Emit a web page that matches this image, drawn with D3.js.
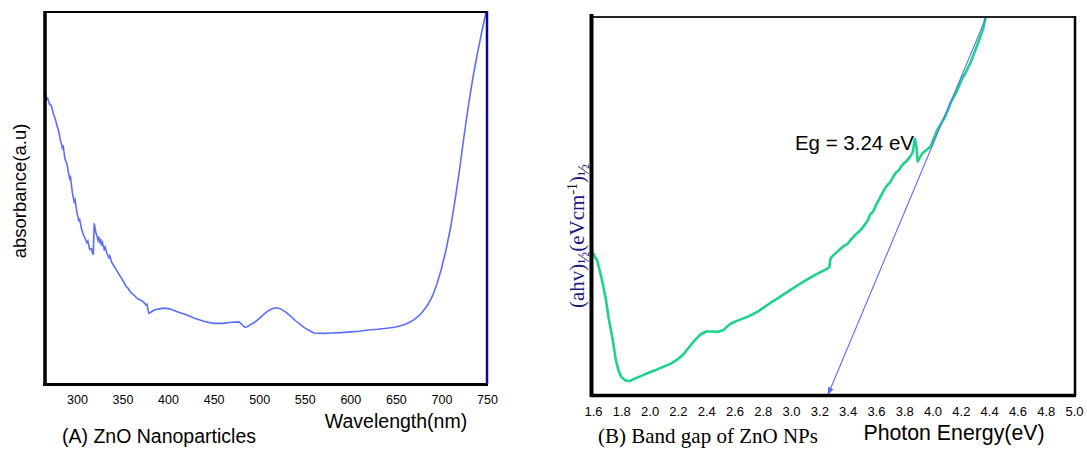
<!DOCTYPE html>
<html>
<head>
<meta charset="utf-8">
<script src="https://d3js.org/d3.v7.min.js"></script>
<style>
  body { margin: 0; background: #fff; }
  svg { display: block; }
</style>
</head>
<body>
<div id="chart"></div>
<script>
// Define SVG area dimensions
var svgWidth = 1087;
var svgHeight = 449;

// Panel A data: UV-vis absorbance of ZnO nanoparticles
var wavelength = [265, 266, 267, 268, 270, 272, 274, 276, 278, 280, 282, 284, 285, 287, 289, 290, 292, 293, 295, 297,
  298, 300, 302, 303, 305, 307, 309, 311, 312, 314, 316, 317, 318, 319, 320, 321, 322, 323, 324, 325,
  326, 327, 328, 330, 331, 333, 335, 336, 338, 340, 342, 344, 346, 348, 350, 352, 354, 356, 358, 360,
  362, 364, 366, 368, 370, 372, 374, 376, 377, 378, 379, 381, 385, 390, 396, 402, 410, 420, 430, 440,
  450, 460, 470, 478, 481, 484, 487, 490, 495, 500, 505, 510, 515, 520, 525, 530, 535, 540, 545, 550,
  555, 560, 570, 580, 590, 600, 610, 620, 630, 640, 650, 660, 665, 670, 675, 680, 685, 690, 695, 700,
  705, 710, 715, 720, 725, 730, 735, 740, 745, 749];
var absorbance = [0.772, 0.778, 0.765, 0.768, 0.752, 0.748, 0.728, 0.715, 0.696, 0.680, 0.655, 0.634, 0.638, 0.604, 0.592, 0.578, 0.552, 0.556, 0.515, 0.490,
  0.495, 0.462, 0.440, 0.443, 0.418, 0.402, 0.391, 0.380, 0.384, 0.362, 0.364, 0.352, 0.350, 0.432, 0.418, 0.405, 0.398, 0.388, 0.396, 0.378,
  0.390, 0.372, 0.380, 0.362, 0.368, 0.350, 0.340, 0.345, 0.328, 0.320, 0.312, 0.304, 0.296, 0.288, 0.280, 0.272, 0.262, 0.258, 0.250, 0.244,
  0.240, 0.236, 0.230, 0.228, 0.225, 0.222, 0.218, 0.212, 0.214, 0.200, 0.190, 0.193, 0.199, 0.202, 0.204, 0.202, 0.194, 0.186, 0.176, 0.168,
  0.163, 0.163, 0.166, 0.167, 0.160, 0.153, 0.154, 0.159, 0.166, 0.176, 0.187, 0.197, 0.203, 0.205, 0.200, 0.192, 0.181, 0.170, 0.160, 0.151,
  0.144, 0.137, 0.136, 0.137, 0.138, 0.140, 0.142, 0.145, 0.147, 0.150, 0.153, 0.160, 0.166, 0.173, 0.183, 0.196, 0.213, 0.236, 0.268, 0.310,
  0.360, 0.420, 0.495, 0.578, 0.670, 0.755, 0.830, 0.895, 0.955, 1.0];
var wavelengthTicks = [300, 350, 400, 450, 500, 550, 600, 650, 700, 750];

// Panel B data: Tauc plot of ZnO NPs
var energy = [1.60, 1.63, 1.66, 1.69, 1.71, 1.74, 1.76, 1.78, 1.80, 1.83, 1.86, 1.90, 1.95, 2.00, 2.05, 2.10, 2.15, 2.20, 2.24, 2.28,
  2.32, 2.36, 2.40, 2.44, 2.48, 2.52, 2.55, 2.58, 2.63, 2.70, 2.77, 2.84, 2.91, 2.98, 3.05, 3.12, 3.18, 3.25, 3.27, 3.28,
  3.30, 3.33, 3.36, 3.38, 3.40, 3.42, 3.44, 3.46, 3.48, 3.50, 3.52, 3.54, 3.56, 3.58, 3.60, 3.62, 3.64, 3.66, 3.68, 3.70,
  3.72, 3.74, 3.76, 3.78, 3.80, 3.82, 3.84, 3.86, 3.875, 3.885, 3.895, 3.91, 3.93, 3.95, 3.97, 3.99, 4.01, 4.03, 4.05, 4.07,
  4.09, 4.11, 4.13, 4.15, 4.17, 4.19, 4.21, 4.23, 4.25, 4.27, 4.29, 4.31, 4.33, 4.35, 4.36, 4.375];
var tauc = [3.75, 3.55, 3.10, 2.55, 2.05, 1.45, 0.95, 0.65, 0.48, 0.38, 0.37, 0.44, 0.52, 0.60, 0.67, 0.75, 0.83, 0.95, 1.08, 1.27,
  1.45, 1.60, 1.68, 1.68, 1.67, 1.71, 1.82, 1.90, 1.98, 2.08, 2.22, 2.40, 2.57, 2.74, 2.91, 3.07, 3.20, 3.33, 3.38, 3.62,
  3.70, 3.80, 3.90, 3.96, 4.00, 4.10, 4.18, 4.26, 4.32, 4.40, 4.50, 4.60, 4.78, 4.85, 5.02, 5.16, 5.30, 5.44, 5.55, 5.62,
  5.76, 5.88, 5.94, 6.05, 6.14, 6.20, 6.30, 6.42, 6.78, 6.60, 6.18, 6.28, 6.40, 6.46, 6.52, 6.60, 6.80, 6.98, 7.12, 7.24,
  7.38, 7.55, 7.75, 7.88, 8.02, 8.20, 8.38, 8.50, 8.65, 8.80, 9.00, 9.20, 9.40, 9.60, 9.72, 10.0];
var energyTicks = [1.6, 1.8, 2.0, 2.2, 2.4, 2.6, 2.8, 3.0, 3.2, 3.4, 3.6, 3.8, 4.0, 4.2, 4.4, 4.6, 4.8, 5.0];
// extrapolated linear fit: [energy, tauc] at both ends
var fitLine = [[4.38, 10.0], [3.26, 0]];
var bandGap = "Eg = 3.24 eV";

var svg = d3.select("#chart")
  .append("svg")
  .attr("width", svgWidth)
  .attr("height", svgHeight);

svg.append("defs").append("marker")
  .attr("id", "arrow")
  .attr("viewBox", "0 0 10 10")
  .attr("refX", 10)
  .attr("refY", 5)
  .attr("markerWidth", 7)
  .attr("markerHeight", 7)
  .attr("orient", "auto")
  .append("path")
  .attr("d", "M0,1 L10,5 L0,9 Z")
  .attr("fill", "#5a6cf4");

// ==============================
// Panel A
// ==============================
var xA = d3.scaleLinear().domain([265, 750]).range([45, 487]);
var yA = d3.scaleLinear().domain([0, 1]).range([384, 12]);

var lineA = d3.line()
  .x(d => xA(d[0]))
  .y(d => yA(d[1]));

svg.append("path")
  .datum(d3.zip(wavelength, absorbance))
  .attr("d", lineA)
  .attr("fill", "none")
  .attr("stroke", "#5b6ef7")
  .attr("stroke-width", 1.6);

// frame
svg.append("line").attr("x1", 45).attr("x2", 487).attr("y1", 12).attr("y2", 12)
  .attr("stroke", "#000").attr("stroke-width", 2);
svg.append("line").attr("x1", 45).attr("x2", 45).attr("y1", 11).attr("y2", 386)
  .attr("stroke", "#000").attr("stroke-width", 3.5);
svg.append("line").attr("x1", 43).attr("x2", 488).attr("y1", 384.5).attr("y2", 384.5)
  .attr("stroke", "#000").attr("stroke-width", 3);
svg.append("line").attr("x1", 487).attr("x2", 487).attr("y1", 11).attr("y2", 384)
  .attr("stroke", "#0a0a8a").attr("stroke-width", 2.5);

var axisA = svg.append("g")
  .attr("transform", "translate(0, 384)")
  .call(d3.axisBottom(xA).tickValues(wavelengthTicks).tickSize(0).tickPadding(11));
axisA.select(".domain").remove();
axisA.selectAll("text")
  .style("font-family", "Liberation Sans, Arial, sans-serif")
  .style("font-size", "12.5px")
  .attr("fill", "#000");

svg.append("text")
  .attr("x", 396)
  .attr("y", 428)
  .attr("text-anchor", "middle")
  .style("font-family", "Liberation Sans, Arial, sans-serif")
  .style("font-size", "19.5px")
  .text("Wavelength(nm)");

svg.append("text")
  .attr("x", 62)
  .attr("y", 443)
  .style("font-family", "Liberation Sans, Arial, sans-serif")
  .style("font-size", "19.5px")
  .text("(A) ZnO Nanoparticles");

svg.append("text")
  .attr("transform", "translate(20, 191) rotate(-90)")
  .attr("text-anchor", "middle")
  .attr("dy", "0.35em")
  .style("font-family", "Liberation Sans, Arial, sans-serif")
  .style("font-size", "18.5px")
  .text("absorbance(a.u)");

// ==============================
// Panel B
// ==============================
var xB = d3.scaleLinear().domain([1.6, 5.0]).range([593, 1074]);
var yB = d3.scaleLinear().domain([0, 10]).range([395, 17]);

var lineB = d3.line()
  .x(d => xB(d[0]))
  .y(d => yB(d[1]));

svg.append("path")
  .datum(d3.zip(energy, tauc))
  .attr("d", lineB)
  .attr("fill", "none")
  .attr("stroke", "#1dd38c")
  .attr("stroke-width", 2.6)
  .attr("stroke-linejoin", "round");

svg.append("path")
  .datum(fitLine)
  .attr("d", lineB)
  .attr("fill", "none")
  .attr("stroke", "#5a6cf4")
  .attr("stroke-width", 1.1)
  .attr("marker-end", "url(#arrow)");

// frame
svg.append("line").attr("x1", 592).attr("x2", 1076).attr("y1", 17).attr("y2", 17)
  .attr("stroke", "#222").attr("stroke-width", 2);
svg.append("line").attr("x1", 1075).attr("x2", 1075).attr("y1", 16).attr("y2", 396)
  .attr("stroke", "#000").attr("stroke-width", 2.5);
svg.append("line").attr("x1", 591).attr("x2", 1076).attr("y1", 395.5).attr("y2", 395.5)
  .attr("stroke", "#000").attr("stroke-width", 3.5);
svg.append("line").attr("x1", 591.5).attr("x2", 591.5).attr("y1", 14).attr("y2", 397)
  .attr("stroke", "#000").attr("stroke-width", 4);

var axisB = svg.append("g")
  .attr("transform", "translate(0, 395)")
  .call(d3.axisBottom(xB).tickValues(energyTicks).tickSize(0).tickPadding(12)
    .tickFormat(d3.format(".1f")));
axisB.select(".domain").remove();
axisB.selectAll("text")
  .style("font-family", "Liberation Sans, Arial, sans-serif")
  .style("font-size", "13px")
  .attr("fill", "#000");

svg.append("text")
  .attr("x", 954)
  .attr("y", 440)
  .attr("text-anchor", "middle")
  .style("font-family", "Liberation Sans, Arial, sans-serif")
  .style("font-size", "21.3px")
  .text("Photon Energy(eV)");

svg.append("text")
  .attr("x", 598)
  .attr("y", 443)
  .style("font-family", "Liberation Serif, Times New Roman, serif")
  .style("font-size", "21px")
  .text("(B) Band gap of ZnO NPs");

svg.append("text")
  .attr("x", 914)
  .attr("y", 150)
  .attr("text-anchor", "end")
  .style("font-family", "Liberation Sans, Arial, sans-serif")
  .style("font-size", "20.5px")
  .text(bandGap);

// y label with sub/superscripts
var yLabel = svg.append("text")
  .attr("transform", "translate(577, 236) rotate(-90)")
  .attr("text-anchor", "middle")
  .attr("dy", "0.35em")
  .attr("fill", "#1a1a7e")
  .style("font-family", "Liberation Serif, Times New Roman, serif")
  .style("font-size", "21px");
yLabel.append("tspan").text("(ahv)");
yLabel.append("tspan").attr("dy", 5).style("font-size", "16px").text("½");
yLabel.append("tspan").attr("dy", -5).text("(eVcm");
yLabel.append("tspan").attr("dy", -7).style("font-size", "14px").attr("fill", "#111").text("-1");
yLabel.append("tspan").attr("dy", 7).text(")");
yLabel.append("tspan").attr("dy", 5).style("font-size", "16px").text("½");
</script>
</body>
</html>
